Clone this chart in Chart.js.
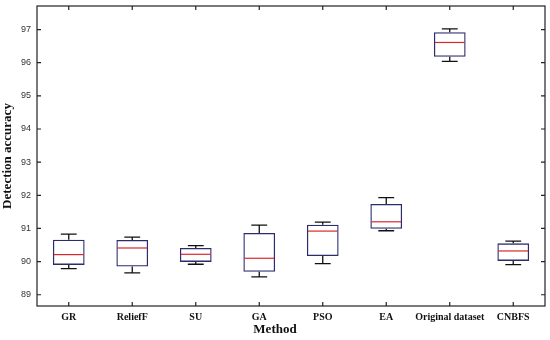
<!DOCTYPE html>
<html>
<head>
<meta charset="utf-8">
<script src="https://cdn.jsdelivr.net/npm/chart.js@4/dist/chart.umd.min.js"></script>
<style>
  html, body { margin: 0; padding: 0; background: #fff; }
  #wrap { width: 550px; height: 340px; }
</style>
</head>
<body>
<div id="wrap"><canvas id="chart" width="550" height="340"></canvas></div>
<script>
// box plot values
const methods = ['GR', 'ReliefF', 'SU', 'GA', 'PSO', 'EA', 'Original dataset', 'CNBFS'];
const whiskerLow  = [89.79, 89.66, 89.92, 89.54, 89.94, 90.93, 96.04, 89.91];
const quartile1   = [89.90, 89.85, 89.99, 89.69, 90.17, 90.99, 96.18, 90.02];
const medians     = [90.21, 90.41, 90.22, 90.10, 90.92, 91.20, 96.61, 90.32];
const quartile3   = [90.66, 90.65, 90.41, 90.86, 91.11, 91.74, 96.92, 90.55];
const whiskerHigh = [90.83, 90.74, 90.48, 91.10, 91.19, 91.93, 97.02, 90.62];
const yTicks = [89, 90, 91, 92, 93, 94, 95, 96, 97];
const xTitle = 'Method';

const boxColor = '#2b2b6e';
const medianColor = '#d8282c';

// whiskers, medians, frame and inward ticks (matlab look)
const boxExtras = {
    id: 'boxExtras',
    afterDatasetsDraw(chart){
        const ctx = chart.ctx;
        const x = chart.scales.x;
        const y = chart.scales.y;
        const meta = chart.getDatasetMeta(0);
        ctx.save();
        meta.data.forEach((bar, i)=>{
            const cx = bar.x;
            const half = bar.width / 2;
            const cap = half / 2;
            ctx.lineWidth = 1.3;
            ctx.strokeStyle = '#111';
            ctx.beginPath();
            ctx.moveTo(cx, y.getPixelForValue(quartile3[i]));
            ctx.lineTo(cx, y.getPixelForValue(whiskerHigh[i]));
            ctx.moveTo(cx, y.getPixelForValue(quartile1[i]));
            ctx.lineTo(cx, y.getPixelForValue(whiskerLow[i]));
            ctx.moveTo(cx - cap, y.getPixelForValue(whiskerHigh[i]));
            ctx.lineTo(cx + cap, y.getPixelForValue(whiskerHigh[i]));
            ctx.moveTo(cx - cap, y.getPixelForValue(whiskerLow[i]));
            ctx.lineTo(cx + cap, y.getPixelForValue(whiskerLow[i]));
            ctx.stroke();
            ctx.strokeStyle = medianColor;
            ctx.lineWidth = 1.2;
            ctx.beginPath();
            ctx.moveTo(cx - half + 1, y.getPixelForValue(medians[i]));
            ctx.lineTo(cx + half - 1, y.getPixelForValue(medians[i]));
            ctx.stroke();
        });

        const a = chart.chartArea;
        ctx.strokeStyle = '#222';
        ctx.lineWidth = 1.2;
        ctx.strokeRect(a.left, a.top, a.right - a.left, a.bottom - a.top);
        ctx.beginPath();
        yTicks.forEach((v)=>{
            const py = y.getPixelForValue(v);
            ctx.moveTo(a.left, py); ctx.lineTo(a.left + 4, py);
            ctx.moveTo(a.right, py); ctx.lineTo(a.right - 4, py);
        });
        methods.forEach((m, i)=>{
            const px = x.getPixelForValue(i);
            ctx.moveTo(px, a.bottom); ctx.lineTo(px, a.bottom - 4);
            ctx.moveTo(px, a.top); ctx.lineTo(px, a.top + 4);
        });
        ctx.stroke();

        // x title sits a bit left of centre in the original
        ctx.fillStyle = '#111';
        ctx.font = 'bold 13px "Liberation Serif"';
        ctx.textAlign = 'center';
        ctx.textBaseline = 'middle';
        ctx.fillText(xTitle, 275, 330);
        ctx.restore();
    }
};

const boxes = methods.map((m, i)=>[quartile1[i], quartile3[i]]);

new Chart(document.getElementById('chart'), {
    type: 'bar',
    data: {
        labels: methods,
        datasets: [{
            data: boxes,
            backgroundColor: 'rgba(0,0,0,0)',
            borderColor: boxColor,
            borderWidth: 1.3,
            borderSkipped: false,
            barPercentage: 0.5,
            categoryPercentage: 1.0
        }]
    },
    options: {
        responsive: false,
        animation: false,
        layout: { padding: { top: 6, right: 5, left: 0, bottom: 0 } },
        plugins: {
            legend: { display: false },
            tooltip: { enabled: false }
        },
        scales: {
            x: {
                offset: true,
                grid: { display: false, drawTicks: false },
                border: { display: false },
                ticks: {
                    padding: 5,
                    color: '#111',
                    maxRotation: 0,
                    autoSkip: false,
                    font: { family: 'Liberation Serif', size: 10, weight: 'bold' }
                },
                afterFit: (scale)=>{
                    scale.height = 34;
                    scale.paddingLeft = 0;
                    scale.paddingRight = 0;
                }
            },
            y: {
                min: 88.66,
                max: 97.71,
                grid: { display: false, drawTicks: false },
                border: { display: false },
                afterBuildTicks: (axis)=>{ axis.ticks = yTicks.map(v=>({ value: v })); },
                ticks: {
                    padding: 6,
                    color: '#333',
                    font: { family: 'Liberation Sans', size: 9 }
                },
                title: {
                    display: true,
                    text: 'Detection accuracy',
                    color: '#111',
                    padding: { top: 0, bottom: 0 },
                    font: { family: 'Liberation Serif', size: 13, weight: 'bold' }
                },
                afterFit: (scale)=>{
                    scale.width = 37;
                    scale.paddingTop = 0;
                    scale.paddingBottom = 0;
                }
            }
        }
    },
    plugins: [boxExtras]
});
</script>
</body>
</html>
